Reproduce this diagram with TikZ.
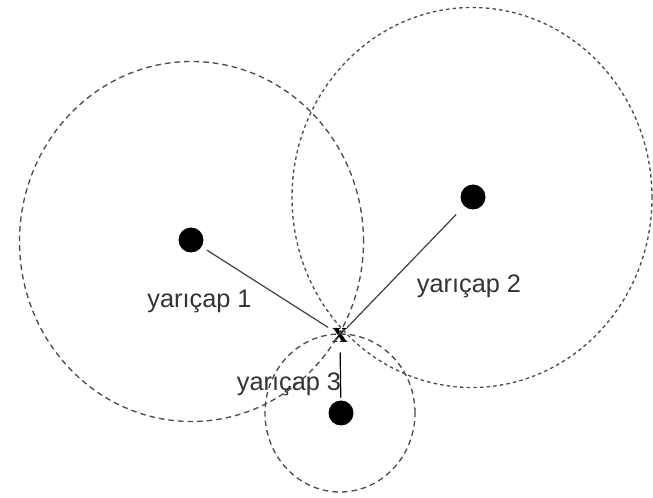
\documentclass[tikz,border=0pt]{standalone}
\usepackage{fontspec}
\setmainfont{Liberation Sans}
\newfontfamily\xfont{Liberation Serif}

\begin{document}
\begin{tikzpicture}[x=0.75pt,y=-0.75pt,
    dot/.style={circle,fill=black,inner sep=0pt,minimum size=18.75pt},
    ring/.style={draw=black!70,line width=1pt,dash pattern=on 4.2pt off 3pt},
    fine ring/.style={ring,dash pattern=on 2.6pt off 2.4pt},
    radius line/.style={draw=black!75,line width=0.9pt},
    lbl/.style={anchor=base,text=black!80,font=\fontsize{19}{23}\selectfont}]
  \useasboundingbox (0,0) rectangle (653,498);

  % centres and the point x
  \node[dot] (n1) at (191,240) {};
  \node[dot] (n2) at (473,197) {};
  \node[dot] (n3) at (341,413) {};
  \node[inner sep=0pt,font=\xfont\bfseries\fontsize{23}{25}\selectfont] (px) at (340,335) {x};

  % circles
  \draw[ring] (191.5,241.5) ellipse [x radius=129pt,y radius=135pt];
  \draw[fine ring] (472,197.5) ellipse [x radius=135pt,y radius=142.5pt];
  \draw[ring] (340,413) ellipse [x radius=56.25pt,y radius=59.25pt];

  % radii
  \draw[radius line,shorten <=4.5pt,shorten >=3.5pt] (n1) -- (px);
  \draw[radius line,shorten <=8.6pt] (n2) -- (px);
  \draw[line width=0.9pt,shorten <=7.5pt,shorten >=2pt] (px.south) -- (n3);

  \node[lbl] (r1) at (199.5,308) {yarıçap 1};
  \node[lbl] (r2) at (469,293) {yarıçap 2};
  \node[lbl] (r3) at (289,391) {yarıçap 3};
\end{tikzpicture}
\end{document}
